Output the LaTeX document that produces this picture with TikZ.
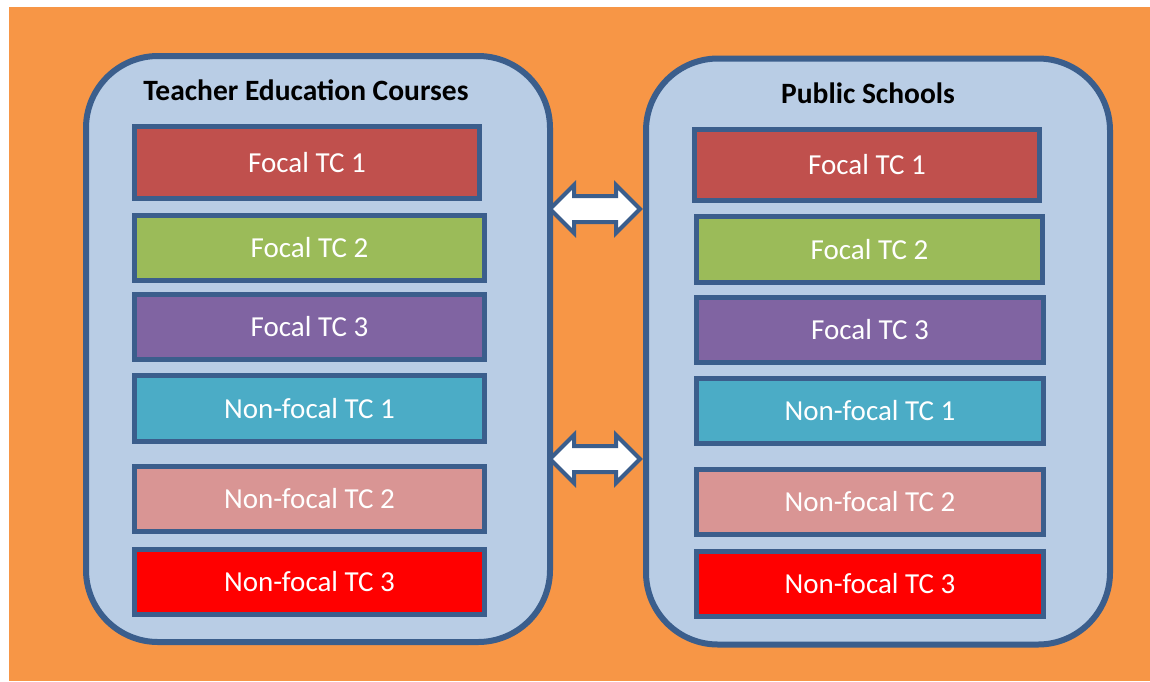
\documentclass[tikz,border=0pt]{standalone}
\usepackage{fontspec}
\setmainfont{Carlito}
\usepackage{tikz}
\usetikzlibrary{shapes.arrows}
\usetikzlibrary{positioning}
\definecolor{bgorange}{HTML}{F79646}
\definecolor{panelblue}{HTML}{B9CDE5}
\definecolor{edgeblue}{HTML}{3B5E8C}
\definecolor{tcred}{HTML}{C0504D}
\definecolor{tcgreen}{HTML}{9BBB59}
\definecolor{tcpurple}{HTML}{8064A2}
\definecolor{tcaqua}{HTML}{4BACC6}
\definecolor{tcpink}{HTML}{D99594}
\definecolor{tcbright}{HTML}{FF0000}
\tikzset{panel/.style={shape=rectangle, draw=edgeblue, fill=panelblue, line width=6pt, rounded corners=72pt, minimum width=464pt, minimum height=586pt}}
\tikzset{tcbox/.style={shape=rectangle, draw=edgeblue, line width=5pt, text=white, minimum height=65pt, font=\fontsize{29}{35}\selectfont}}
\tikzset{paneltitle/.style={font=\bfseries\fontsize{29.5}{35}\selectfont, text=black}}
\tikzset{link/.style={shape=double arrow, draw=edgeblue, fill=white, line width=4pt, inner sep=0pt, text height=22pt, minimum height=90pt, double arrow head extend=11pt}}

\begin{document}
\begin{tikzpicture}[x=1pt,y=-1pt]
		\useasboundingbox (0,0) rectangle (1150,681);
		\fill[bgorange] (9,7) rectangle (1150,681);
		% the two panels
		\node[panel] (tec) at (318,349) {};
		\node[panel] (ps) at (878,351.5) {};
		\node[paneltitle] (tecT) at (306,90) {Teacher Education Courses};
		\node[paneltitle] (psT) at (868,93) {Public Schools};
		% left column
		\node[tcbox, fill=tcred, minimum width=345pt, minimum height=72pt] (L1) at (307,162.5) {Focal TC 1};
		\node[tcbox, fill=tcgreen, minimum width=350pt] (L2) at (309.5,248) {Focal TC 2};
		\node[tcbox, fill=tcpurple, minimum width=350pt] (L3) at (309.5,327) {Focal TC 3};
		\node[tcbox, fill=tcaqua, minimum width=350pt, minimum height=66pt] (L4) at (309.5,408.5) {Non-focal TC 1};
		\node[tcbox, fill=tcpink, minimum width=350pt] (L5) at (309.5,499) {Non-focal TC 2};
		\node[tcbox, fill=tcbright, minimum width=350pt] (L6) at (309.5,582) {Non-focal TC 3};
		% right column
		\node[tcbox, fill=tcred, minimum width=345pt, minimum height=71pt] (R1) at (867,165) {Focal TC 1};
		\node[tcbox, fill=tcgreen, minimum width=346pt, minimum height=66pt] (R2) at (869.5,249.5) {Focal TC 2};
		\node[tcbox, fill=tcpurple, minimum width=347pt] (R3) at (870,330) {Focal TC 3};
		\node[tcbox, fill=tcaqua, minimum width=347pt] (R4) at (870,411) {Non-focal TC 1};
		\node[tcbox, fill=tcpink, minimum width=347pt] (R5) at (870,502) {Non-focal TC 2};
		\node[tcbox, fill=tcbright, minimum width=347pt] (R6) at (870,584) {Non-focal TC 3};
		% links between the panels
		\node[link] (up) at (595,209) {};
		\node[link] (down) at (595,459) {};
	\end{tikzpicture}
\end{document}
